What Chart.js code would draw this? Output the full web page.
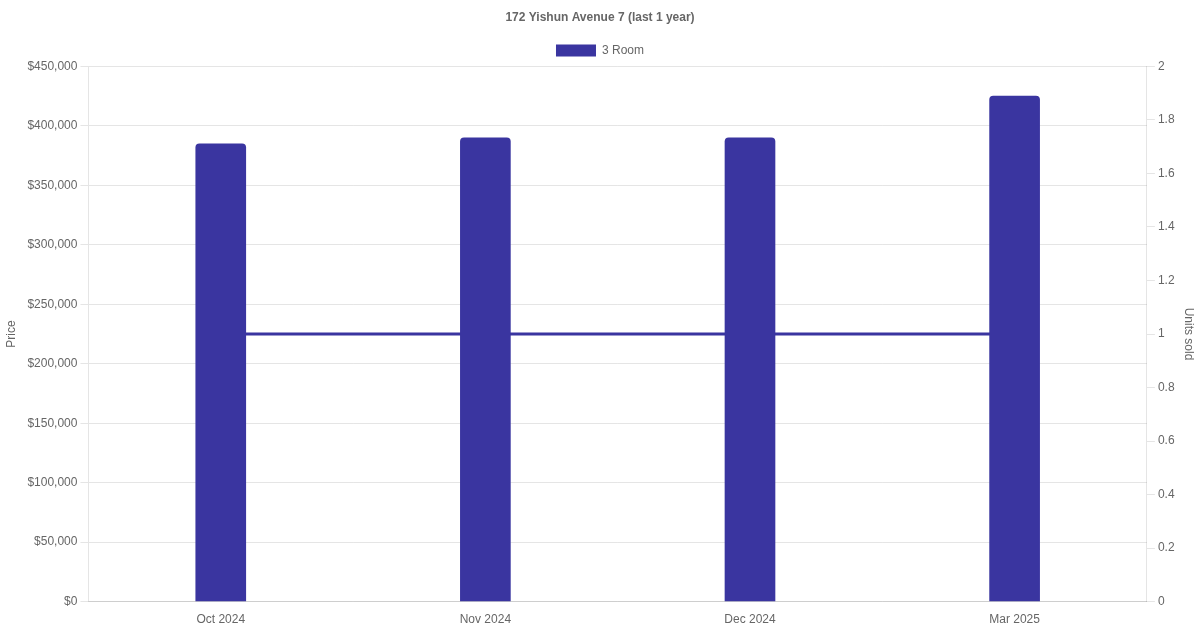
<!DOCTYPE html>
<html>
<head>
<meta charset="utf-8">
<script src="https://cdn.jsdelivr.net/npm/chart.js@4"></script>
<style>
  html, body { margin: 0; padding: 0; background: #fff; }
  #wrap { width: 1200px; height: 630px; }
</style>
</head>
<body>
<div id="wrap"><canvas id="chart"></canvas></div>
<script>
// Chart data
const months = ["Oct 2024", "Nov 2024", "Dec 2024", "Mar 2025"];
const prices = [385000, 390000, 390000, 425000];
const unitsSold = [1, 1, 1, 1];
const barColor = "#3a35a0";

Chart.defaults.font.family = "'Liberation Sans', Arial, sans-serif";
Chart.defaults.color = "#666";

const ctx = document.getElementById("chart").getContext("2d");
new Chart(ctx, {
    type: 'bar',
    data: {
        labels: months,
        datasets: [
            {
                type: 'line',
                label: 'Units sold',
                data: unitsSold,
                yAxisID: 'y1',
                borderColor: barColor,
                backgroundColor: barColor,
                borderWidth: 3,
                pointRadius: 0,
                order: 2
            },
            {
                label: '3 Room',
                data: prices,
                yAxisID: 'y',
                backgroundColor: barColor,
                borderColor: barColor,
                borderRadius: 4,
                borderSkipped: 'bottom',
                barThickness: 50,
                order: 1
            }
        ]
    },
    options: {
        responsive: true,
        maintainAspectRatio: false,
        animation: false,
        plugins: {
            title: {
                display: true,
                text: '172 Yishun Avenue 7 (last 1 year)',
                font: { size: 12, weight: 'bold' },
                padding: { top: 10, bottom: 10 }
            },
            legend: {
                display: true,
                labels: {
                    filter: item => item.text === '3 Room',
                    font: { size: 12 }
                }
            }
        },
        scales: {
            x: {
                grid: { display: false },
                ticks: { font: { size: 12 } }
            },
            y: {
                position: 'left',
                min: 0,
                max: 450000,
                ticks: {
                    stepSize: 50000,
                    font: { size: 12 },
                    callback: v => '$' + v.toLocaleString('en-US')
                },
                title: { display: true, text: 'Price', font: { size: 12 }, padding: { top: 4, bottom: 6 } }
            },
            y1: {
                position: 'right',
                min: 0,
                max: 2,
                ticks: {
                    stepSize: 0.2,
                    font: { size: 12 },
                    callback: v => String(+v.toFixed(1))
                },
                grid: { drawOnChartArea: false },
                title: { display: true, text: 'Units sold', font: { size: 12 } }
            }
        }
    }
});
</script>
</body>
</html>
